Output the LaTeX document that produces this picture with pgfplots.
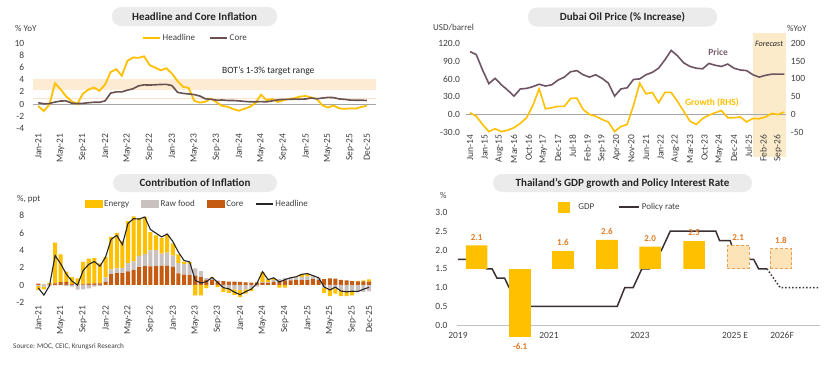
\documentclass[border=0pt]{standalone}
\usepackage{fontspec}
\setmainfont{Carlito}
\usepackage{pgfplots}
\pgfplotsset{compat=1.18}
\usepackage{pgfplotstable}

\definecolor{gold}{HTML}{FFC000}
\definecolor{coreline}{HTML}{6B5050}
\definecolor{price}{HTML}{6F5463}
\definecolor{pricetxt}{HTML}{7A6070}
\definecolor{band}{HTML}{FDEBD3}
\definecolor{bandline}{HTML}{FBE3CC}
\definecolor{corebar}{HTML}{C55A11}
\definecolor{rawbar}{HTML}{C9C0C0}
\definecolor{pill}{HTML}{EBEBEB}
\definecolor{gdplbl}{HTML}{E07B25}
\definecolor{lightbar}{HTML}{FDE3B8}
\definecolor{lightedge}{HTML}{E5A05A}
\definecolor{policy}{HTML}{3B3032}
\definecolor{tick}{HTML}{404040}
\definecolor{ttl}{HTML}{262626}
\definecolor{forecast}{HTML}{FCEBCB}
\definecolor{zero}{HTML}{A6A6A6}

\newcommand{\fs}[1]{\fontsize{#1}{#1}\selectfont}
\pgfkeys{/pgf/number format/assume math mode=true}

\pgfplotstableread{
m H CORE cC cR cE
0 -0.34 0.21 0.15 -0.10 -0.50
1 -1.17 0.04 0.03 -0.20 -0.30
2 -0.08 0.08 0.05 -0.10 0.20
3 3.41 0.32 0.20 -0.05 4.70
4 2.44 0.49 0.33 -0.05 3.20
5 1.25 0.52 0.35 -0.10 1.20
6 0.45 0.14 0.10 -0.20 0.80
7 -0.02 0.07 0.05 -0.55 0.70
8 1.68 0.11 0.08 -0.50 2.60
9 2.38 0.21 0.15 -0.40 2.90
10 2.71 0.29 0.20 -0.20 2.90
11 2.17 0.29 0.20 -0.10 2.30
12 3.23 0.52 0.36 0.50 2.40
13 5.28 1.80 1.25 0.55 3.75
14 5.73 2.00 1.38 0.55 4.10
15 4.65 2.00 1.38 0.60 3.10
16 7.10 2.28 1.57 0.95 4.85
17 7.66 2.51 1.73 1.00 5.20
18 7.61 2.99 2.06 1.30 4.35
19 7.86 3.15 2.17 1.40 4.30
20 6.41 3.12 2.15 1.85 2.10
21 5.98 3.17 2.19 1.85 1.70
22 5.55 3.22 2.22 1.40 1.80
23 5.89 3.23 2.23 1.50 2.05
24 5.02 3.04 2.10 1.30 1.40
25 3.79 1.93 1.33 1.20 1.00
26 2.83 1.75 1.21 1.20 0.30
27 2.67 1.66 1.15 1.30 0.20
28 0.53 1.55 1.07 0.85 -1.20
29 0.23 1.32 0.91 0.70 -1.20
30 0.38 0.86 0.59 0.20 -0.35
31 0.88 0.79 0.55 0.25 0.10
32 0.30 0.63 0.43 0.10 -0.25
33 -0.31 0.66 0.46 -0.30 -0.50
34 -0.44 0.58 0.40 -0.40 -0.50
35 -0.83 0.58 0.40 -0.50 -0.65
36 -1.11 0.52 0.36 -0.60 -0.80
37 -0.77 0.43 0.30 -0.50 -0.50
38 -0.47 0.37 0.26 -0.40 -0.30
39 0.19 0.37 0.26 -0.20 0.10
40 1.54 0.39 0.27 0.10 1.10
41 0.62 0.36 0.25 0.10 0.30
42 0.83 0.52 0.36 0.20 0.25
43 0.35 0.68 0.47 0.20 -0.30
44 0.61 0.77 0.53 0.30 -0.30
45 0.83 0.77 0.53 0.30 0.00
46 0.95 0.80 0.55 0.30 0.10
47 1.23 0.79 0.55 0.40 0.30
48 1.32 0.83 0.57 0.40 0.35
49 1.08 0.99 0.68 0.30 0.10
50 0.84 0.86 0.59 0.20 0.05
51 -0.22 0.98 0.68 -0.30 -0.60
52 -0.57 1.09 0.75 -0.40 -0.90
53 -0.25 1.06 0.73 -0.40 -0.60
54 -0.70 0.84 0.58 -0.60 -0.70
55 -0.79 0.77 0.53 -0.70 -0.60
56 -0.72 0.65 0.45 -0.70 -0.50
57 -0.76 0.62 0.43 -0.75 0.05
58 -0.49 0.63 0.43 -0.80 0.10
59 -0.28 0.58 0.40 -0.75 0.25
}\infl

\pgfplotstableread{
m P G
0 106 5
3 101 -5
6 75 -28
9 52 -48
12 61 -40
15 50 -48
18 41 -44
21 31 -37
24 43 -25
27 44 -9
30 47 25
33 51 72
36 48 16
39 50 19
42 58 23
45 63 23
48 72 45
51 74 46
54 67 14
57 63 0
60 67 -5
63 61 -14
66 53 -21
69 31 -48
72 43 -34
75 45 -28
78 59 25
81 60 88
84 67 58
87 71 62
90 78 33
93 92 62
96 108 62
99 99 37
102 87 9
105 81 -19
108 78 -28
111 77 -11
114 86 -2
117 83 5
120 81 11
123 85 -9
126 78 -9
129 75 -7
132 74 -21
135 67 -11
138 63 -12
141 66 -7
144 68 3
147 68 0
150 68 7
}\oil

\pgfplotsset{
  base/.style={scale only axis, axis line style={draw=none}, major tick length=0pt,
    tick label style={font=\fs{9.5}, text=tick},
    /pgf/number format/assume math mode=true},
  hid/.style={scale only axis, hide axis, /pgf/number format/assume math mode=true},
}

\begin{document}
\begin{tikzpicture}
\path[use as bounding box, fill=white] (0pt,0pt) rectangle (840pt,368pt);

% ---------- titles ----------
\node[fill=pill, rounded corners=9pt, minimum width=165pt, minimum height=19pt, inner sep=0pt, font=\bfseries\fs{11}, text=ttl] at (194.5pt,351.5pt) {Headline and Core Inflation};
\node[fill=pill, rounded corners=9pt, minimum width=189pt, minimum height=19pt, inner sep=0pt, font=\bfseries\fs{11}, text=ttl] at (622.5pt,351pt) {Dubai Oil Price (\% Increase)};
\node[fill=pill, rounded corners=9pt, minimum width=164pt, minimum height=18pt, inner sep=0pt, font=\bfseries\fs{11}, text=ttl] at (195pt,185pt) {Contribution of Inflation};
\node[fill=pill, rounded corners=9pt, minimum width=259pt, minimum height=18pt, inner sep=0pt, font=\bfseries\fs{11}, text=ttl] at (622.5pt,185pt) {Thailand’s GDP growth and Policy Interest Rate};

\node[anchor=west, font=\fs{9}, text=tick, inner sep=0pt] at (15pt,340pt) {\% YoY};
\node[anchor=west, font=\fs{9}, text=tick, inner sep=0pt] at (433pt,340pt) {USD/barrel};
\node[anchor=west, font=\fs{9}, text=tick, inner sep=0pt] at (787pt,340pt) {\%YoY};
\node[anchor=west, font=\fs{9}, text=tick, inner sep=0pt] at (17pt,169pt) {\%, ppt};
\node[anchor=west, font=\fs{9}, text=tick, inner sep=0pt] at (440pt,173pt) {\%};
\node[anchor=west, font=\fs{7.2}, text=tick, inner sep=0pt] at (13pt,21pt) {Source: MOC, CEIC, Krungsri Research};

% ---------- Panel 1 ----------
\begin{axis}[base, at={(32.7pt,239.7pt)}, anchor=south west, width=343.1pt, height=85pt,
  xmin=-1, xmax=60.6, ymin=-4, ymax=10, ytick={-4,-2,0,2,4,6,8,10},
  yticklabel style={xshift=-5pt},
  xtick={0,4,8,12,16,20,24,28,32,36,40,44,48,52,56,59},
  xticklabels={Jan-21,May-21,Sep-21,Jan-22,May-22,Sep-22,Jan-23,May-23,Sep-23,Jan-24,May-24,Sep-24,Jan-25,May-25,Sep-25,Dec-25},
  x tick label style={rotate=90, anchor=east, xshift=-2pt},
  legend style={at={(0.474,1.062)}, anchor=center, draw=none, fill=none, font=\fs{9}, text=tick, legend columns=2, /tikz/every even column/.append style={column sep=12pt}},
  legend image code/.code={\draw[#1] (0pt,0pt) -- (17pt,0pt);},
]
\fill[band] (axis cs:-1,2.3) rectangle (axis cs:60.6,4.1);
\draw[bandline, line width=0.8pt] (axis cs:-1,1) -- (axis cs:60.6,1);
\draw[zero, line width=0.8pt] (axis cs:-1,0) -- (axis cs:60.6,0);
\addplot[gold, line width=1.8pt] table[x=m, y=H] {\infl};
\addlegendentry{Headline}
\addplot[coreline, line width=1.6pt] table[x=m, y=CORE] {\infl};
\addlegendentry{Core}
\node[font=\fs{9.5}, text=ttl] at (axis cs:41.3,5.4) {BOT’s 1-3\% target range};
\end{axis}

% ---------- Panel 2 ----------
\begin{axis}[hid, at={(466pt,235.7pt)}, anchor=south west, width=320pt, height=89pt,
  xmin=-1.9, xmax=150.8, ymin=-30, ymax=120, clip=false]
\fill[forecast] (axis cs:135,-71) rectangle (axis cs:150.8,138);
\end{axis}
\begin{axis}[base, at={(466pt,235.7pt)}, anchor=south west, width=320pt, height=89pt,
  xmin=-1.9, xmax=150.8, ymin=-30, ymax=120, ytick={-30,0,30,60,90,120},
  clip=false,
  yticklabel style={xshift=-2.5pt, /pgf/number format/.cd, fixed, fixed zerofill, precision=1},
  xtick={0,7,...,147},
  xticklabels={Jun-14,Jan-15,Aug-15,Mar-16,Oct-16,May-17,Dec-17,Jul-18,Feb-19,Sep-19,Apr-20,Nov-20,Jun-21,Jan-22,Aug-22,Mar-23,Oct-23,May-24,Dec-24,Jul-25,Feb-26,Sep-26},
  x tick label style={rotate=90, anchor=east, xshift=1pt},
]
\draw[zero, line width=0.8pt] (axis cs:-1.9,0) -- (axis cs:150.8,0);
\addplot[price, line width=1.6pt] table[x=m, y=P] {\oil};
\node[font=\bfseries\fs{9.5}, text=pricetxt] at (axis cs:118.4,104.5) {Price};
\node[font=\bfseries\fs{9.5}, text=gold] at (axis cs:115.5,20.2) {Growth (RHS)};
\node[font=\itshape\fs{8.2}, text=ttl] at (axis cs:142.7,119.7) {Forecast};
\end{axis}
\begin{axis}[base, at={(466pt,235.7pt)}, anchor=south west, width=320pt, height=89pt,
  xmin=-1.9, xmax=150.8, ymin=-50, ymax=200, ytick={-50,0,50,100,150,200},
  yticklabel pos=right, yticklabel style={xshift=1.3pt}, xtick=\empty,
]
\addplot[gold, line width=1.6pt] table[x=m, y=G] {\oil};
\end{axis}

% ---------- Panel 3 ----------
\begin{axis}[base, at={(32.7pt,65.7pt)}, anchor=south west, width=342.3pt, height=86.6pt,
  xmin=-1, xmax=60.07, ymin=-2, ymax=8, ytick={-2,0,2,4,6,8},
  yticklabel style={xshift=-5pt},
  xtick={0,4,8,12,16,20,24,28,32,36,40,44,48,52,56,59},
  xticklabels={Jan-21,May-21,Sep-21,Jan-22,May-22,Sep-22,Jan-23,May-23,Sep-23,Jan-24,May-24,Sep-24,Jan-25,May-25,Sep-25,Dec-25},
  x tick label style={rotate=90, anchor=east},
  ybar stacked, bar width=0.72,
]
\addplot[fill=corebar, draw=none] table[x=m, y expr={max(\thisrow{cC},0)}] {\infl};
\addplot[fill=rawbar, draw=none] table[x=m, y expr={max(\thisrow{cR},0)}] {\infl};
\addplot[fill=gold, draw=none] table[x=m, y expr={max(\thisrow{cE},0)}] {\infl};
\end{axis}
\begin{axis}[hid, at={(32.7pt,65.7pt)}, anchor=south west, width=342.3pt, height=86.6pt,
  xmin=-1, xmax=60.07, ymin=-2, ymax=8, ybar stacked, bar width=0.72,
]
\addplot[fill=corebar, draw=none] table[x=m, y expr={min(\thisrow{cC},0)}] {\infl};
\addplot[fill=rawbar, draw=none] table[x=m, y expr={min(\thisrow{cR},0)}] {\infl};
\addplot[fill=gold, draw=none] table[x=m, y expr={min(\thisrow{cE},0)}] {\infl};
\end{axis}
\begin{axis}[hid, at={(32.7pt,65.7pt)}, anchor=south west, width=342.3pt, height=86.6pt,
  xmin=-1, xmax=60.07, ymin=-2, ymax=8,
  legend style={at={(0.481,1.135)}, anchor=center, draw=none, fill=none, font=\fs{9}, text=tick, legend columns=4, /tikz/every even column/.append style={column sep=10pt}},
]
\addlegendimage{legend image code/.code={\fill[gold] (0pt,-3.5pt) rectangle (17pt,3.5pt);}}
\addlegendentry{Energy}
\addlegendimage{legend image code/.code={\fill[rawbar] (0pt,-3.5pt) rectangle (17pt,3.5pt);}}
\addlegendentry{Raw food}
\addlegendimage{legend image code/.code={\fill[corebar] (0pt,-3.5pt) rectangle (17pt,3.5pt);}}
\addlegendentry{Core}
\addplot[ttl, line width=1.1pt, legend image code/.code={\draw[ttl, line width=1.1pt] (0pt,0pt) -- (17pt,0pt);}] table[x=m, y=H] {\infl};
\addlegendentry{Headline}
\end{axis}

% ---------- Panel 4 ----------
\begin{axis}[base, at={(456.7pt,42.7pt)}, anchor=south west, width=363.3pt, height=113pt,
  xmin=-0.34, xmax=95.5, ymin=0, ymax=3, ytick={0,0.5,...,3},
  yticklabel style={xshift=-5.7pt, /pgf/number format/.cd, fixed, fixed zerofill, precision=1},
  xtick={0,24,48,73.1,85.5}, xticklabels={2019,2021,2023,2025 E,2026F},
  xticklabel style={yshift=-3pt},
  clip=false,
]
\draw[zero!70, line width=0.8pt] (axis cs:-0.34,0) -- (axis cs:95.5,0);
\addplot[policy, line width=1.5pt] coordinates {(0,1.75) (6.5,1.75) (7.5,1.5) (9,1.5) (10.3,1.25) (12.3,1.25) (13.5,1.0) (15,0.75) (16.5,0.5) (42,0.5) (44,1.0) (46.2,1.0) (48.5,1.5) (50.5,1.5) (52,1.75) (53.7,2.0) (56,2.5) (68,2.5) (69,2.25) (71.8,2.25) (72.6,2.0) (75.5,2.0) (76.6,1.75) (78,1.75) (79.3,1.5) (81.5,1.5)};
\addplot[policy, line width=1.5pt, dotted] coordinates {(81.5,1.5) (85,1.0) (95,1.0)};
\end{axis}
\begin{axis}[hid, at={(456.7pt,42.7pt)}, anchor=south west, width=363.3pt, height=113pt,
  xmin=-0.34, xmax=95.5, ymin=-5.085, ymax=5.085, clip=false,
  ybar, bar width=5.7,
  legend style={at={(0.449,1.047)}, anchor=center, draw=none, fill=none, font=\fs{9}, text=tick, legend columns=2, /tikz/every even column/.append style={column sep=22pt}},
]
\addlegendimage{legend image code/.code={\fill[gold] (0pt,-5pt) rectangle (11pt,5pt);}}
\addlegendentry{\hspace{7pt}GDP}
\addlegendimage{legend image code/.code={\draw[policy, line width=1.5pt] (0pt,0pt) -- (20pt,0pt);}}
\addlegendentry{Policy rate}
\addplot[fill=gold, draw=none, bar shift=0pt, forget plot,
  nodes near coords={\pgfmathprintnumber[fixed,fixed zerofill,precision=1,assume math mode=true]{\pgfplotspointmeta}},
  every node near coord/.append style={font=\bfseries\fs{9}, text=gdplbl, yshift=1.5pt}]
  coordinates {(4.9,2.1) (27.7,1.6) (39.3,2.6) (50.7,2.0) (62.3,2.5)};
\addplot[fill=gold, draw=none, bar shift=0pt, forget plot,
  nodes near coords={\pgfmathprintnumber[fixed,fixed zerofill,precision=1,assume math mode=true]{\pgfplotspointmeta}},
  every node near coord/.append style={font=\bfseries\fs{9}, text=gdplbl, yshift=-3.5pt}]
  coordinates {(16.4,-6.1)};
\addplot[fill=lightbar, draw=lightedge, densely dashed, line width=0.7pt, bar shift=0pt, forget plot,
  nodes near coords={\pgfmathprintnumber[fixed,fixed zerofill,precision=1,assume math mode=true]{\pgfplotspointmeta}},
  every node near coord/.append style={font=\bfseries\fs{9}, text=gdplbl, yshift=1.5pt, solid}]
  coordinates {(73.9,2.1) (85.2,1.8)};
\end{axis}
\end{tikzpicture}
\end{document}
